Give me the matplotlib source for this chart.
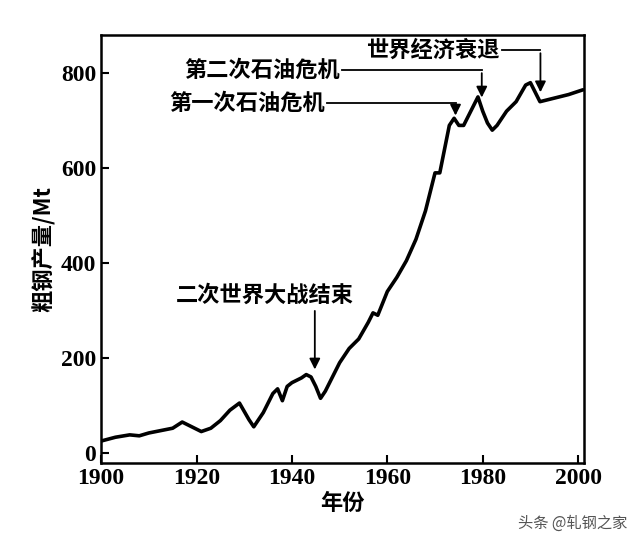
import matplotlib
matplotlib.use("Agg")
import matplotlib.pyplot as plt

plt.rcParams['font.family'] = ['Noto Sans CJK SC', 'DejaVu Sans']

years = [1900, 1903, 1906, 1908, 1910, 1913, 1915, 1917, 1919, 1921, 1923, 1925, 1927, 1929, 1931, 1932, 1934, 1936, 1937, 1938, 1939, 1940, 1942, 1943, 1944, 1945, 1946, 1947, 1948, 1950, 1952, 1954, 1956, 1957, 1958, 1960, 1962, 1964, 1966, 1968, 1970, 1971, 1972, 1973, 1974, 1975, 1976, 1977, 1978, 1979, 1980, 1981, 1982, 1983, 1985, 1987, 1989, 1990, 1991, 1992, 1994, 1996, 1998, 2001]
steel = [25, 33, 38, 36, 42, 48, 52, 65, 55, 45, 52, 68, 90, 105, 70, 55, 85, 125, 135, 110, 140, 148, 158, 165, 160, 140, 115, 130, 150, 190, 220, 240, 275, 295, 290, 340, 370, 405, 450, 510, 590, 590, 640, 690, 705, 690, 690, 710, 730, 750, 720, 695, 680, 690, 720, 740, 775, 780, 760, 740, 745, 750, 755, 765]
xticks = [1900, 1920, 1940, 1960, 1980, 2000]
yticks = [0, 200, 400, 600, 800]

fig = plt.figure(figsize=(6.4, 5.42), dpi=100)
ax = fig.add_axes([0.158, 0.146, 0.755, 0.789])
ax.plot(years, steel, color='black', lw=2.6, solid_capstyle='round')
ax.set_xlim(1900, 2001.3)
ax.set_ylim(-21, 880)
ax.set_xticks(xticks)
ax.set_yticks(yticks)
for lab in ax.get_xticklabels() + ax.get_yticklabels():
    lab.set_family('Liberation Serif'); lab.set_fontsize(17); lab.set_fontweight('bold')
ax.tick_params(direction='in', length=6, width=1.5)
for s in ax.spines.values():
    s.set_linewidth(1.8)
ax.set_xlabel('年份', fontsize=16, fontweight='bold', labelpad=2)
ax.set_ylabel('粗钢产量/Mt', fontsize=16, fontweight='bold', labelpad=4)

tk = dict(fontsize=16, fontweight='bold')
ap = dict(arrowstyle='-|>', color='black', lw=1.3, mutation_scale=16)
ax.text(1934.3, 333, '二次世界大战结束', ha='center', va='center', **tk)
ax.annotate('', xy=(1944.8, 170), xytext=(1944.8, 305), arrowprops=ap)

ax.text(1950, 806, '第二次石油危机', ha='right', va='center', **tk)
ax.plot([1950.5, 1979.8], [806, 806], color='black', lw=1.3, clip_on=False)
ax.annotate('', xy=(1979.8, 743), xytext=(1979.8, 806), arrowprops=ap)

ax.text(1946.9, 737, '第一次石油危机', ha='right', va='center', **tk)
ax.plot([1947.3, 1974.3], [737, 737], color='black', lw=1.3, clip_on=False)
ax.annotate('', xy=(1974.3, 705), xytext=(1974.3, 737), arrowprops=ap)

ax.text(1983.5, 848, '世界经济衰退', ha='right', va='center', **tk)
ax.plot([1984, 1992.1], [848, 848], color='black', lw=1.3, clip_on=False)
ax.annotate('', xy=(1992.1, 754), xytext=(1992.1, 848), arrowprops=ap)

fig.text(0.98, 0.035, '头条 @轧钢之家', ha='right', va='center', fontsize=11, color='#555555')
fig.savefig('out.png', dpi=100, facecolor='white')
